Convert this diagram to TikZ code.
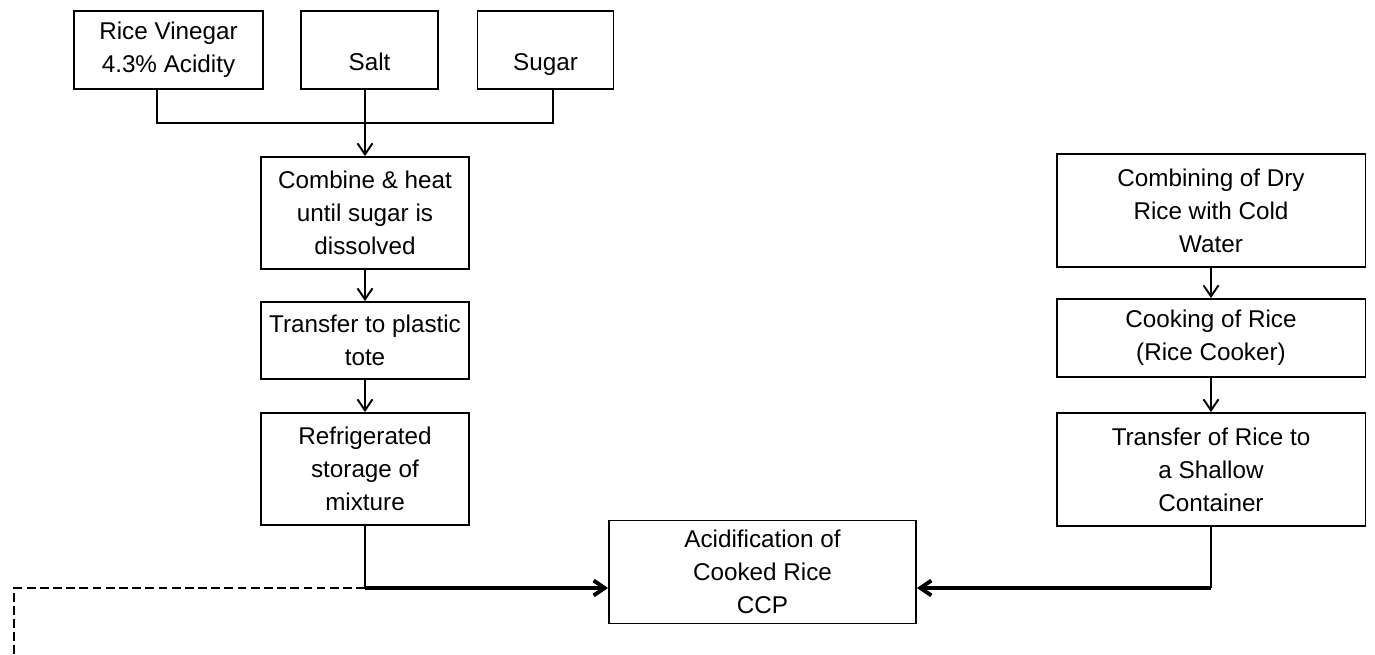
\documentclass[tikz,border=0pt]{standalone}
\usepackage{fontspec}
\setmainfont{Liberation Sans}
\usetikzlibrary{arrows.meta,calc}

\begin{document}
\begin{tikzpicture}[x=0.02cm, y=-0.02cm,
    stepbox/.style={draw=black, line width=1.1pt, align=center, inner sep=0pt,
      font=\fontsize{13.8}{18.8}\selectfont},
    low/.style={text height=23pt, text depth=0pt},
    link/.style={line width=1.1pt},
    flow/.style={-{Straight Barb[length=2.2mm, width=3mm]}, line width=1.1pt},
    feed/.style={-{Straight Barb[length=2.2mm, width=3mm]}, line width=2.2pt},
    dashline/.style={dash pattern=on 5pt off 2.5pt, line width=1.1pt},
  ]
  \useasboundingbox (0,0) rectangle (1375,655);

  % ingredients
  \node[stepbox, minimum width=3.78cm, minimum height=1.56cm] (vinegar) at (168.5,50)
    {Rice Vinegar\\4.3\% Acidity};
  \node[stepbox, low, minimum width=2.74cm, minimum height=1.56cm] (salt) at (369.5,50) {Salt};
  \node[stepbox, low, minimum width=2.72cm, minimum height=1.56cm] (sugar) at (545.5,50) {Sugar};

  % vinegar mixture
  \node[stepbox, minimum width=4.16cm, minimum height=2.24cm] (combine) at (365,213)
    {Combine \& heat\\until sugar is\\dissolved};
  \node[stepbox, minimum width=4.16cm, minimum height=1.54cm] (tote) at (365,340.5)
    {Transfer to plastic\\tote};
  \node[stepbox, minimum width=4.16cm, minimum height=2.24cm] (fridge) at (365,469)
    {Refrigerated\\storage of\\mixture};

  % rice
  \node[stepbox, minimum width=6.18cm, minimum height=2.26cm] (dryrice) at (1211,210.5)
    {Combining of Dry\\Rice with Cold\\Water};
  \node[stepbox, minimum width=6.18cm, minimum height=1.56cm] (cook) at (1211,338)
    {Cooking of Rice\\(Rice Cooker)};
  \node[stepbox, minimum width=6.18cm, minimum height=2.26cm] (shallow) at (1211,469.5)
    {Transfer of Rice to\\a Shallow\\Container};

  \node[stepbox, minimum width=6.14cm, minimum height=2.06cm] (acid) at (762.5,572)
    {Acidification of\\Cooked Rice\\CCP};

  \coordinate (mix) at (365,123);
  \coordinate (inL) at ([yshift=-0.32cm]acid.west);
  \coordinate (inR) at ([yshift=-0.32cm]acid.east);
  \coordinate (split) at (inL -| fridge.south);
  \coordinate (off) at (14,655);

  \draw[link] ([xshift=-0.23cm]vinegar.south) |- (mix) -| ([xshift=0.15cm]sugar.south);
  \draw[flow] (salt.south -| combine.north) -- (combine.north);
  \draw[flow] (combine) -- (tote);
  \draw[flow] (tote) -- (fridge);
  \draw[flow] (dryrice) -- (cook);
  \draw[flow] (cook) -- (shallow);
  \draw[link] (fridge.south) -- (split);
  \draw[feed] (split) -- (inL);
  \draw[link] (shallow.south) -- (shallow.south |- inR);
  \draw[feed] (shallow.south |- inR) -- (inR);
  \draw[dashline] (split) -| (off);
\end{tikzpicture}
\end{document}
